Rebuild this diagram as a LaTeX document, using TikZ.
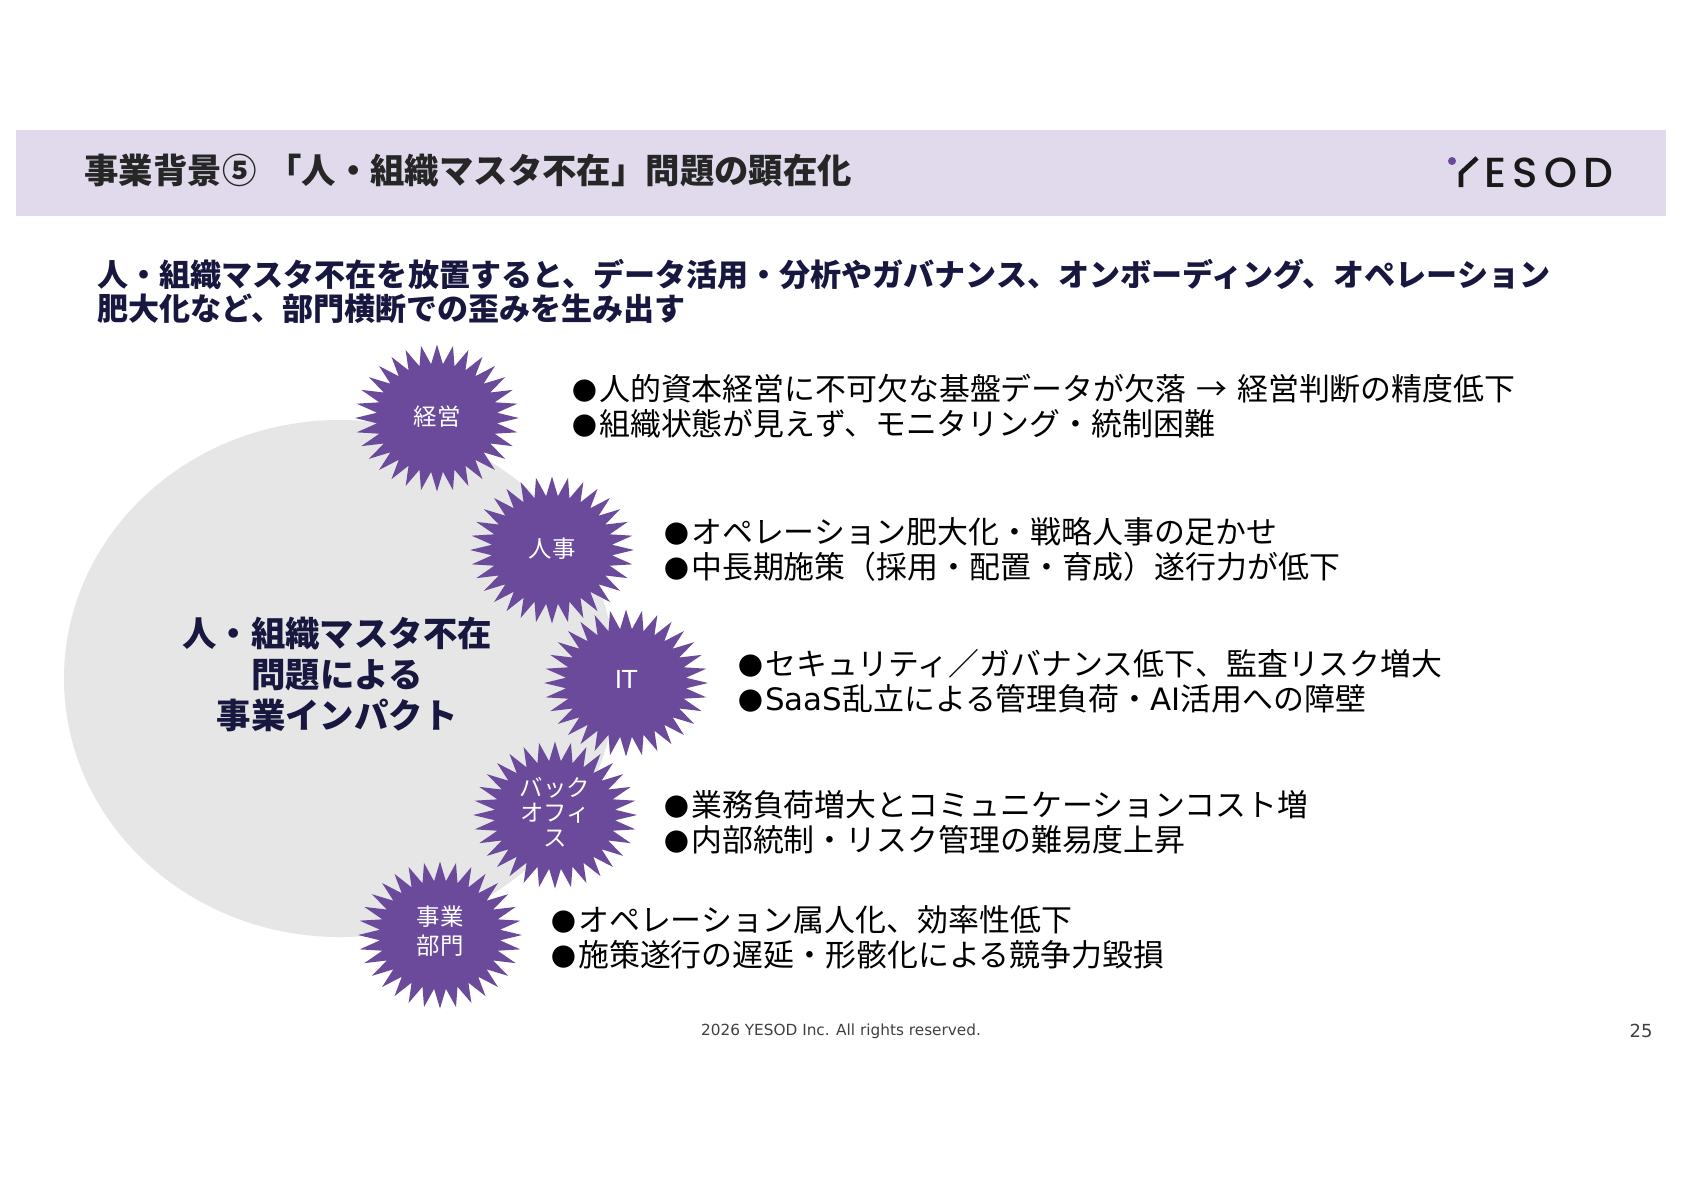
\documentclass[tikz,border=0pt]{standalone}
\usepackage{fontspec}
\setmainfont{Noto Sans CJK JP}
\newfontfamily\latinfont{DejaVu Sans}
\newfontfamily\logofont[LetterSpace=15,UprightFont=* Medium]{Poppins}
\usepackage{tikz}
\usetikzlibrary{shapes.geometric,positioning}
\definecolor{bandlilac}{HTML}{E0DAEC}
\definecolor{burstpurple}{HTML}{6B4A9B}
\definecolor{navy}{HTML}{17173F}
\definecolor{circgray}{HTML}{E6E6E6}
\newcommand{\bul}{\makebox[13.4pt][l]{\fontsize{12.4}{12.4}\selectfont ●}}
\tikzset{
  burst/.style={star,star points=32,star point ratio=1.36,fill=burstpurple,minimum size=147*0.5pt,inner sep=0pt,xscale=1.115,transform shape},
  lbl/.style={text=white,align=center,font=\fontsize{11.7}{12.6}\selectfont,inner sep=0pt},
  lst/.style={anchor=west,align=left,inner sep=0pt,text=black,font=\fontsize{15.45}{17.6}\selectfont},
  hd/.style={anchor=west,align=left,inner sep=0pt,text=navy,font=\fontsize{15.53}{17.1}\selectfont\bfseries},
}
\begin{document}
\begin{tikzpicture}[x=0.5pt,y=-0.5pt]
  \useasboundingbox (0,0) rectangle (1684,1190);
  \fill[white] (0,0) rectangle (1684,1190);
  \node[draw=none,fill=bandlilac,minimum width=825pt,minimum height=43pt,inner sep=0pt] (band) at (841,173) {};
  \node[anchor=west,inner sep=0pt,text=black!85,font=\fontsize{17.2}{20}\selectfont\bfseries] (title) at (84,171) {事業背景⑤\hspace{5.5pt}「人・組織マスタ不在」問題の顕在化};
  % logo
  \fill[burstpurple] (1452,161) circle (4);
  \draw[line width=2.3pt,black!90] (1461,187) -- (1461,173) -- (1477,158);
  \node[anchor=west,inner sep=0pt,text=black!90,font=\logofont\fontsize{21}{21}\selectfont] (logo) at (1484,173) {ESOD};
  \node[hd] (head) at (97,291) {人・組織マスタ不在を放置すると、データ活用・分析やガバナンス、オンボーディング、オペレーション\\肥大化など、部門横断での歪みを生み出す};
  % big circle
  \fill[circgray] (340,678.5) ellipse (276 and 258.5);
  \node[align=center,inner sep=0pt,text=navy,font=\fontsize{17.2}{20.4}\selectfont\bfseries] (impact) at (337,674.5) {人・組織マスタ不在\\問題による\\事業インパクト};
  % bursts
  \node[burst] (keiei) at (437,418) {};
  \node[burst] (jinji) at (552,550) {};
  \node[burst] (it) at (626,683) {};
  \node[burst] (back) at (555,815) {};
  \node[burst] (jigyo) at (440,935) {};
  \node[lbl] (keieit) at (437,417) {経営};
  \node[lbl] (jinjit) at (552,549) {人事};
  \node[lbl,font=\fontsize{12.4}{13}\selectfont] (itt) at (626,679) {\latinfont IT};
  \node[lbl] (backt) at (555,812) {バック\\オフィ\\ス};
  \node[lbl,font=\fontsize{11.7}{14.5}\selectfont] (jigyot) at (440,931) {事業\\部門};
  % lists
  \node[lst] (l1) at (572,406) {\bul 人的資本経営に不可欠な基盤データが欠落\hspace{5pt}→\hspace{5pt}経営判断の精度低下\\\bul 組織状態が見えず、モニタリング・統制困難};
  \node[lst] (l2) at (664,549.5) {\bul オペレーション肥大化・戦略人事の足かせ\\\bul 中長期施策（採用・配置・育成）遂行力が低下};
  \node[lst] (l3) at (738,681.5) {\bul セキュリティ／ガバナンス低下、監査リスク増大\\\bul {\latinfont SaaS}乱立による管理負荷・{\latinfont AI}活用への障壁};
  \node[lst] (l4) at (664,822) {\bul 業務負荷増大とコミュニケーションコスト増\\\bul 内部統制・リスク管理の難易度上昇};
  \node[lst] (l5) at (551,937) {\bul オペレーション属人化、効率性低下\\\bul 施策遂行の遅延・形骸化による競争力毀損};
  \node[inner sep=0pt,text=black!75,font=\latinfont\fontsize{7.65}{10}\selectfont] (foot) at (841,1031) {2026 YESOD Inc. All rights reserved.};
  \node[inner sep=0pt,text=black!75,font=\latinfont\fontsize{9}{10}\selectfont] (page) at (1641,1031) {25};
\end{tikzpicture}
\end{document}
